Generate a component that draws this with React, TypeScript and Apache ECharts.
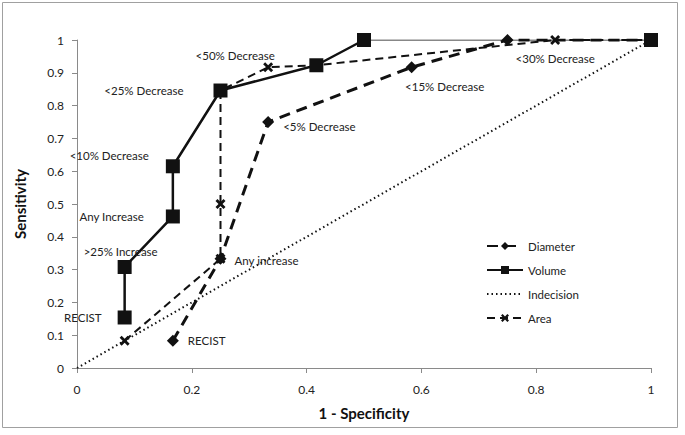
import React, { useEffect, useRef } from "react";
import * as echarts from "echarts";

const xTicks = [0, 0.2, 0.4, 0.6, 0.8, 1];
const yTicks = [0, 0.1, 0.2, 0.3, 0.4, 0.5, 0.6, 0.7, 0.8, 0.9, 1];

const diameterX = [0.167, 0.25, 0.333, 0.583, 0.75, 1];
const diameterY = [0.083, 0.333, 0.75, 0.917, 1, 1];
const diameterLabels = ["RECIST", "Any increase", "<5% Decrease", "<15% Decrease", "", ""];

const volumeX = [0.083, 0.083, 0.167, 0.167, 0.25, 0.417, 0.5, 1];
const volumeY = [0.154, 0.308, 0.462, 0.615, 0.846, 0.923, 1, 1];
const volumeLabels = ["RECIST", ">25% Increase", "Any Increase", "<10% Decrease", "<25% Decrease", "", "", ""];

const indecisionX = [0, 1];
const indecisionY = [0, 1];

const areaX = [0.083, 0.25, 0.25, 0.25, 0.333, 0.417, 0.833, 1];
const areaY = [0.083, 0.333, 0.5, 0.846, 0.917, 0.923, 1, 1];
const areaLabels = ["", "", "", "", "<50% Decrease", "", "<30% Decrease", ""];

const FONT = "Lato";

// label placement (styles kept apart from data)
const diameterLabelPos: any[] = [
  { position: "right", distance: 9 },
  { position: "right", distance: 8, offset: [0, 2] },
  { position: "right", distance: 9, offset: [0, 4] },
  { position: "bottom", distance: 7, offset: [33, 0] },
  null,
  null,
];
const volumeLabelPos: any[] = [
  { position: "left", distance: 16 },
  { position: "top", distance: 2, offset: [-4, 0] },
  { position: "left", distance: 22 },
  { position: "left", distance: 17, offset: [0, -11] },
  { position: "left", distance: 30 },
  null,
  null,
  null,
];
const areaLabelPos: any[] = [
  null,
  null,
  null,
  null,
  { position: "top", distance: 1, offset: [-33, 0] },
  null,
  { position: "bottom", distance: 7 },
  null,
];

const crossPath =
  "path://M2,0 L5,3 L8,0 L10,2 L7,5 L10,8 L8,10 L5,7 L2,10 L0,8 L3,5 L0,2 Z";

function build(xs: number[], ys: number[], labels?: string[], pos?: any[]) {
  return xs.map((x, i) => {
    const item: any = { value: [x, ys[i]] };
    if (labels && labels[i] && pos && pos[i]) {
      item.label = {
        show: true,
        formatter: labels[i],
        fontFamily: FONT,
        fontSize: 11.5,
        color: "#222",
        ...pos[i],
      };
    }
    return item;
  });
}

export default function App() {
  const ref = useRef<HTMLDivElement>(null);
  useEffect(() => {
    document.body.style.margin = "0";
    const chart = echarts.init(ref.current!, undefined, { renderer: "svg" });
    const axisColor = "#8a8a8a";
    chart.setOption({
      animation: false,
      backgroundColor: "#ffffff",
      textStyle: { fontFamily: FONT },
      grid: { left: 77, right: 34, top: 40, bottom: 67 },
      graphic: [
        {
          type: "rect",
          shape: { x: 2.5, y: 2.5, width: 675, height: 425 },
          style: { fill: "none", stroke: "#a0a0a0", lineWidth: 1 },
          silent: true,
        },
      ],
      legend: {
        orient: "vertical",
        left: 481,
        top: 235,
        itemWidth: 36,
        itemHeight: 10,
        itemGap: 12,
        data: [
          "Diameter",
          "Volume",
          { name: "Indecision", itemStyle: { color: "rgba(0,0,0,0)", borderWidth: 0 } },
          "Area",
        ],
        textStyle: { fontFamily: FONT, fontSize: 11.5, color: "#222" },
      },
      xAxis: {
        type: "value",
        min: 0,
        max: 1,
        interval: 0.2,
        name: "1 - Specificity",
        nameLocation: "middle",
        nameGap: 37,
        nameTextStyle: { fontFamily: FONT, fontWeight: "bold", fontSize: 15, color: "#111" },
        splitLine: { show: false },
        axisLine: { lineStyle: { color: axisColor } },
        axisTick: { show: true, length: 5, lineStyle: { color: axisColor } },
        axisLabel: {
          margin: 15,
          fontSize: 12,
          color: "#222",
          formatter: (v: number) => (xTicks.some((t) => Math.abs(t - v) < 1e-9) ? String(+v.toFixed(1)) : ""),
        },
      },
      yAxis: {
        type: "value",
        min: 0,
        max: 1,
        interval: 0.1,
        name: "Sensitivity",
        nameLocation: "middle",
        nameGap: 50,
        nameTextStyle: { fontFamily: FONT, fontWeight: "bold", fontSize: 15, color: "#111" },
        splitLine: { show: false },
        axisLine: { show: true, lineStyle: { color: axisColor } },
        axisTick: { show: true, length: 5, lineStyle: { color: axisColor } },
        axisLabel: {
          margin: 13,
          fontSize: 12,
          color: "#222",
          formatter: (v: number) => (yTicks.some((t) => Math.abs(t - v) < 1e-9) ? String(+v.toFixed(1)) : ""),
        },
      },
      series: [
        {
          name: "Indecision",
          type: "line",
          data: build(indecisionX, indecisionY),
          symbol: "none",
          lineStyle: { color: "#111", width: 2, type: [1.5, 3] },
          itemStyle: { color: "#111" },
          z: 1,
        },
        {
          name: "Diameter",
          type: "line",
          data: build(diameterX, diameterY, diameterLabels, diameterLabelPos),
          symbol: "diamond",
          symbolSize: 12,
          lineStyle: { color: "#111", width: 3, type: [11, 7] },
          itemStyle: { color: "#111" },
          z: 2,
        },
        {
          name: "Area",
          type: "line",
          data: build(areaX, areaY, areaLabels, areaLabelPos),
          symbol: crossPath,
          symbolSize: 10,
          lineStyle: { color: "#111", width: 2, type: [8, 5] },
          itemStyle: { color: "#111" },
          z: 3,
        },
        {
          name: "Volume",
          type: "line",
          data: build(volumeX.slice(0, 7), volumeY.slice(0, 7), volumeLabels, volumeLabelPos),
          symbol: "rect",
          symbolSize: 14,
          lineStyle: { color: "#111", width: 2.5, type: "solid" },
          itemStyle: { color: "#111" },
          z: 4,
        },
        {
          name: "VolumeTail",
          type: "line",
          data: build(volumeX.slice(6), volumeY.slice(6)),
          symbol: "rect",
          symbolSize: 14,
          lineStyle: { color: "#111", width: 1.2, type: "solid" },
          itemStyle: { color: "#111" },
          z: 4,
        },
      ],
    });
    return () => chart.dispose();
  }, []);
  return <div ref={ref} style={{ width: 685, height: 435 }} />;
}
